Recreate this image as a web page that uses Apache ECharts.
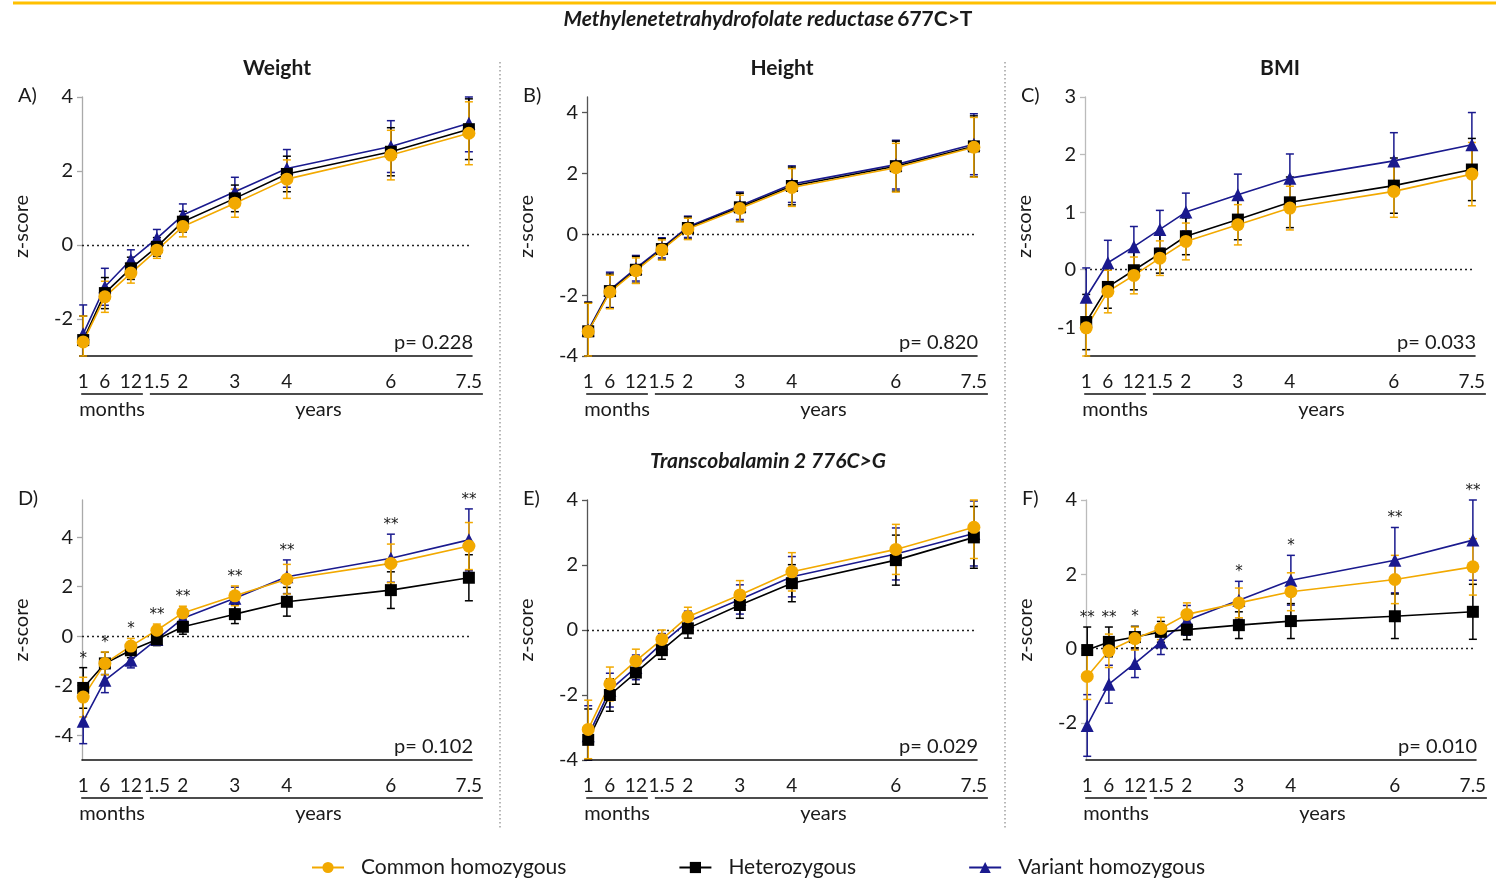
<!DOCTYPE html>
<html><head><meta charset="utf-8">
<script src="https://cdn.jsdelivr.net/npm/echarts@6/dist/echarts.min.js"></script>
<style>html,body{margin:0;padding:0;background:#fff}#c{width:1496px;height:879px}</style>
</head><body><div id="c"></div>
<script>
// ---------- shared axis data ----------
const timeYears = [1/12, 0.5, 1, 1.5, 2, 3, 4, 6, 7.5];
const timeLabels = ['1','6','12','1.5','2','3','4','6','7.5'];
const groupNames = ['Common homozygous','Heterozygous','Variant homozygous'];

// ---------- A) Weight, MTHFR 677C>T ----------
const weightMthfrCommon   = [-2.62,-1.40,-0.76,-0.14,0.50,1.13,1.78,2.43,3.02];
const weightMthfrCommonSD = [0.70,0.42,0.27,0.22,0.28,0.38,0.52,0.67,0.85];
const weightMthfrHetero   = [-2.57,-1.30,-0.63,-0.05,0.63,1.26,1.92,2.52,3.13];
const weightMthfrHeteroSD = [0.65,0.42,0.30,0.25,0.28,0.36,0.48,0.65,0.82];
const weightMthfrVariant  = [-2.40,-1.13,-0.40,0.18,0.81,1.44,2.07,2.66,3.29];
const weightMthfrVariantSD= [0.78,0.50,0.27,0.24,0.30,0.39,0.51,0.70,0.77];
// ---------- B) Height, MTHFR ----------
const heightMthfrCommon   = [-3.20,-1.90,-1.20,-0.52,0.17,0.84,1.53,2.18,2.85];
const heightMthfrCommonSD = [0.93,0.55,0.42,0.33,0.35,0.44,0.62,0.80,0.98];
const heightMthfrHetero   = [-3.19,-1.87,-1.17,-0.49,0.20,0.88,1.58,2.23,2.88];
const heightMthfrHeteroSD = [0.95,0.56,0.44,0.34,0.36,0.46,0.62,0.82,1.00];
const heightMthfrVariant  = [-3.15,-1.83,-1.12,-0.45,0.24,0.93,1.64,2.28,2.95];
const heightMthfrVariantSD= [0.92,0.58,0.42,0.33,0.35,0.45,0.60,0.80,1.00];
// ---------- C) BMI, MTHFR ----------
const bmiMthfrCommon   = [-1.01,-0.38,-0.10,0.20,0.49,0.78,1.07,1.36,1.66];
const bmiMthfrCommonSD = [0.50,0.37,0.32,0.30,0.32,0.35,0.38,0.45,0.55];
const bmiMthfrHetero   = [-0.91,-0.30,-0.01,0.28,0.58,0.87,1.17,1.46,1.74];
const bmiMthfrHeteroSD = [0.48,0.37,0.34,0.34,0.32,0.35,0.44,0.48,0.54];
const bmiMthfrVariant  = [-0.48,0.12,0.40,0.70,1.00,1.30,1.59,1.89,2.17];
const bmiMthfrVariantSD= [0.51,0.39,0.35,0.33,0.33,0.36,0.42,0.49,0.56];
// ---------- D) Weight, TCN2 776C>G ----------
const weightTcnCommon   = [-2.46,-1.10,-0.40,0.24,0.94,1.63,2.30,2.94,3.64];
const weightTcnCommonSD = [0.80,0.46,0.31,0.25,0.27,0.40,0.60,0.78,0.95];
const weightTcnHetero   = [-2.09,-1.10,-0.57,-0.13,0.38,0.89,1.39,1.86,2.36];
const weightTcnHeteroSD = [0.82,0.45,0.30,0.25,0.30,0.38,0.58,0.74,0.93];
const weightTcnVariant  = [-3.44,-1.78,-0.97,-0.13,0.72,1.53,2.40,3.15,3.89];
const weightTcnVariantSD= [0.90,0.50,0.31,0.20,0.40,0.45,0.68,0.97,1.25];
const weightTcnSig      = ['*','*','*','**','**','**','**','**','**'];
// ---------- E) Height, TCN2 ----------
const heightTcnCommon   = [-3.06,-1.66,-0.95,-0.29,0.41,1.08,1.79,2.48,3.16];
const heightTcnCommonSD = [0.90,0.52,0.36,0.29,0.29,0.44,0.59,0.77,0.96];
const heightTcnHetero   = [-3.38,-2.00,-1.31,-0.62,0.05,0.77,1.44,2.15,2.85];
const heightTcnHeteroSD = [0.95,0.50,0.36,0.28,0.30,0.41,0.57,0.77,0.95];
const heightTcnVariant  = [-3.25,-1.85,-1.15,-0.41,0.26,0.94,1.64,2.34,2.97];
const heightTcnVariantSD= [0.92,0.52,0.38,0.30,0.32,0.45,0.62,0.80,1.00];
// ---------- F) BMI, TCN2 ----------
const bmiTcnCommon   = [-0.75,-0.06,0.27,0.54,0.92,1.23,1.53,1.86,2.20];
const bmiTcnCommonSD = [0.62,0.45,0.31,0.30,0.31,0.40,0.51,0.65,0.76];
const bmiTcnHetero   = [-0.04,0.18,0.31,0.45,0.51,0.63,0.74,0.87,0.99];
const bmiTcnHeteroSD = [0.62,0.40,0.29,0.28,0.27,0.36,0.47,0.60,0.74];
const bmiTcnVariant  = [-2.07,-0.96,-0.40,0.18,0.76,1.30,1.84,2.38,2.92];
const bmiTcnVariantSD= [0.83,0.51,0.38,0.34,0.40,0.51,0.67,0.88,1.08];
const bmiTcnSig      = ['**','**','*','','','*','*','**','**'];

// ---------- panel settings ----------
const pValues = ['p= 0.228','p= 0.820','p= 0.033','p= 0.102','p= 0.029','p= 0.010'];
const panelLetters = ['A)','B)','C)','D)','E)','F)'];
const panelTitles = ['Weight','Height','BMI'];
const yTicksA = [-2,0,2,4], yTicksB = [-4,-2,0,2,4], yTicksC = [-1,0,1,2,3];
const yTicksD = [-4,-2,0,2,4], yTicksE = [-4,-2,0,2,4], yTicksF = [-2,0,2,4];

const FONT = 'Lato, "Open Sans", sans-serif';
const TXT = '#1a1a1a';
const COLORS = ['#F2A900','#000000','#1a1a8e'];
const SYMBOLS = ['circle','rect','triangle'];

const panels = [
  {left:82,  top:97,  h:259, yMin:-3, yMax:4,   ticks:yTicksA, axisCol:'#aaa', d:[[weightMthfrCommon,weightMthfrCommonSD],[weightMthfrHetero,weightMthfrHeteroSD],[weightMthfrVariant,weightMthfrVariantSD]], sig:null},
  {left:587, top:97,  h:259, yMin:-4, yMax:4.5, ticks:yTicksB, axisCol:'#555', d:[[heightMthfrCommon,heightMthfrCommonSD],[heightMthfrHetero,heightMthfrHeteroSD],[heightMthfrVariant,heightMthfrVariantSD]], sig:null},
  {left:1085,top:97,  h:259, yMin:-1.5,yMax:3,  ticks:yTicksC, axisCol:'#bbb', d:[[bmiMthfrCommon,bmiMthfrCommonSD],[bmiMthfrHetero,bmiMthfrHeteroSD],[bmiMthfrVariant,bmiMthfrVariantSD]], sig:null},
  {left:82,  top:500, h:260, yMin:-5, yMax:5.5, ticks:yTicksD, axisCol:'#aaa', d:[[weightTcnCommon,weightTcnCommonSD],[weightTcnHetero,weightTcnHeteroSD],[weightTcnVariant,weightTcnVariantSD]], sig:weightTcnSig},
  {left:587, top:500, h:260, yMin:-4, yMax:4,   ticks:yTicksE, axisCol:'#555', d:[[heightTcnCommon,heightTcnCommonSD],[heightTcnHetero,heightTcnHeteroSD],[heightTcnVariant,heightTcnVariantSD]], sig:null},
  {left:1086,top:500, h:260, yMin:-3, yMax:4,   ticks:yTicksF, axisCol:'#bbb', d:[[bmiTcnCommon,bmiTcnCommonSD],[bmiTcnHetero,bmiTcnHeteroSD],[bmiTcnVariant,bmiTcnVariantSD]], sig:bmiTcnSig}
];
const GRID_W = 390, X_MIN = 0.06, X_MAX = 7.56;

function xLabelFmt(v){
  for (let i=0;i<timeYears.length;i++) if (Math.abs(timeYears[i]-v)<1e-4) return timeLabels[i];
  return '';
}
function errRenderer(color){
  return function(params, api){
    const x = api.value(0), y = api.value(1), e = api.value(2);
    const cs = params.coordSys;
    const clamp = v => Math.max(cs.y, Math.min(cs.y+cs.height, v));
    const t = clamp(api.coord([x, y+e])[1]);
    const b = clamp(api.coord([x, y-e])[1]);
    const cx = api.coord([x, y])[0];
    const hw = 4;
    const st = {stroke: color, lineWidth: 1.5};
    return {type:'group', children:[
      {type:'line', shape:{x1:cx,y1:t,x2:cx,y2:b}, style:st},
      {type:'line', shape:{x1:cx-hw,y1:t,x2:cx+hw,y2:t}, style:st},
      {type:'line', shape:{x1:cx-hw,y1:b,x2:cx+hw,y2:b}, style:st}
    ]};
  };
}
function sigRenderer(marks){
  return function(params, api){
    const p = api.coord([api.value(0), api.value(1)]);
    const txt = marks[params.dataIndex];
    return {type:'text', x:p[0], y:p[1]-9,
      style:{text:txt, fontSize:15, fontFamily:'"DejaVu Sans", sans-serif', fill:TXT,
             align:'center', verticalAlign:'middle', textAlign:'center', textVerticalAlign:'middle'}};
  };
}

const grid = [], xAxis = [], yAxis = [], series = [];
panels.forEach((p, i) => {
  grid.push({left:p.left, top:p.top, width:GRID_W, height:p.h, containLabel:false});
  xAxis.push({type:'value', gridIndex:i, min:X_MIN, max:X_MAX,
    axisLine:{show:true, onZero:false, lineStyle:{color:'#111', width:1.6}},
    axisTick:{show:false}, splitLine:{show:false},
    axisLabel:{show:true, customValues:timeYears, formatter:xLabelFmt, margin:16,
      fontSize:19, fontFamily:FONT, color:TXT}});
  yAxis.push({type:'value', gridIndex:i, min:p.yMin, max:p.yMax,
    name:'z-score', nameLocation:'middle', nameGap:50, nameRotate:90,
    nameTextStyle:{fontSize:20, fontFamily:FONT, color:TXT},
    axisLine:{show:true, onZero:false, lineStyle:{color:p.axisCol, width:1.3}},
    axisTick:{show:true, length:5, customValues:p.ticks, lineStyle:{color:p.axisCol, width:1.3}},
    splitLine:{show:false},
    axisLabel:{show:true, customValues:p.ticks, margin:9, fontSize:20, fontFamily:FONT, color:TXT}});
  // draw order: variant, hetero, common
  [2,1,0].forEach(g => {
    const vals = p.d[g][0], sd = p.d[g][1];
    series.push({type:'custom', name:'err'+i+'_'+g, xAxisIndex:i, yAxisIndex:i, silent:true,
      renderItem: errRenderer(COLORS[g]), z: 2,
      data: vals.map((v,k) => [timeYears[k], v, sd[k]])});
    const s = {type:'line', name:groupNames[g], xAxisIndex:i, yAxisIndex:i,
      data: vals.map((v,k) => [timeYears[k], v]),
      symbol:SYMBOLS[g], symbolSize: g===1 ? 12 : 13,
      lineStyle:{color:COLORS[g], width:1.6}, itemStyle:{color:COLORS[g]},
      z: 3, silent:true, animation:false};
    if (g===1) {
      s.markLine = {silent:true, symbol:['none','none'], label:{show:false},
        lineStyle:{color:'#222', type:[2,3], width:1.4}, data:[{yAxis:0}], z:1};
    }
    series.push(s);
  });
  if (p.sig) {
    // mark placed above the highest error bar of the time point
    const ups = timeYears.map((t,k) => Math.max(...p.d.map(gr => gr[0][k] + gr[1][k])));
    series.push({type:'custom', name:'sig'+i, xAxisIndex:i, yAxisIndex:i, silent:true, clip:false,
      renderItem: sigRenderer(p.sig), z:4,
      data: timeYears.map((t,k) => [t, ups[k]])});
  }
});

const chart = echarts.init(document.getElementById('c'), null, {renderer:'canvas'});
chart.setOption({
  animation:false,
  backgroundColor:'#fff',
  textStyle:{fontFamily:FONT},
  grid, xAxis, yAxis, series,
  legend:{data:groupNames, top:852, left:306, itemGap:112, itemWidth:32, itemHeight:14,
    textStyle:{fontSize:21, fontFamily:FONT, color:TXT, padding:[0,0,0,12]}, selectedMode:false}
});

// ---------- annotations ----------
const gfx = [];
function txt(x, y, text, opt){
  return Object.assign({type:'text', x, y, silent:true,
    style:Object.assign({text, fontSize:19, fontFamily:FONT, fill:TXT,
      align:'center', verticalAlign:'middle', textAlign:'center', textVerticalAlign:'middle'}, opt||{})});
}
function hline(x1, x2, y, color, w){
  return {type:'line', silent:true, shape:{x1, y1:y, x2, y2:y}, style:{stroke:color, lineWidth:w}};
}
panels.forEach((p, i) => {
  const bottom = p.top + p.h;
  const px = v => chart.convertToPixel({gridIndex:i}, [v, 0])[0];
  const m1 = px(timeYears[0]) - 2, m2 = px(1) + 12;
  const y1 = px(1.5) - 7, y2 = px(7.5) + 14;
  const ly = bottom + 38;
  gfx.push(hline(m1, m2, ly, '#111', 1.6));
  gfx.push(hline(y1, y2, ly, '#111', 1.6));
  gfx.push(txt((m1+m2)/2, bottom + 54, 'months', {fontSize:20}));
  gfx.push(txt((y1+y2)/2 + 2, bottom + 54, 'years', {fontSize:20}));
  gfx.push(txt(p.left + GRID_W + 1, bottom - 13, pValues[i], {fontSize:20, align:'right', textAlign:'right'}));
  gfx.push(txt(p.left - 64, p.top - 1, panelLetters[i], {fontSize:20, align:'left', textAlign:'left'}));
  if (i < 3) gfx.push(txt(p.left + GRID_W/2, 68, panelTitles[i], {fontSize:21, fontWeight:'bold'}));
});
// header line and gene titles
gfx.push(hline(13, 1496, 3, '#FFC000', 3));
gfx.push({type:'text', x:768, y:19, silent:true, style:{
  text:'{i|Methylenetetrahydrofolate reductase} {b|677C>T}',
  align:'center', verticalAlign:'middle', textAlign:'center', textVerticalAlign:'middle',
  rich:{i:{fontSize:21, fontFamily:FONT, fontStyle:'italic', fontWeight:'bold', fill:TXT, color:TXT},
        b:{fontSize:21, fontFamily:FONT, fontWeight:'bold', fill:TXT, color:TXT}}}});
gfx.push(txt(768, 461, 'Transcobalamin 2 776C>G', {fontSize:21, fontWeight:'bold', fontStyle:'italic'}));
// dotted separators
[500, 1005].forEach(x => gfx.push({type:'line', silent:true, shape:{x1:x, y1:62, x2:x, y2:828},
  style:{stroke:'#888', lineWidth:1.2, lineDash:[1.5,2.5]}}));
chart.setOption({graphic:{elements:gfx}});
</script></body></html>
